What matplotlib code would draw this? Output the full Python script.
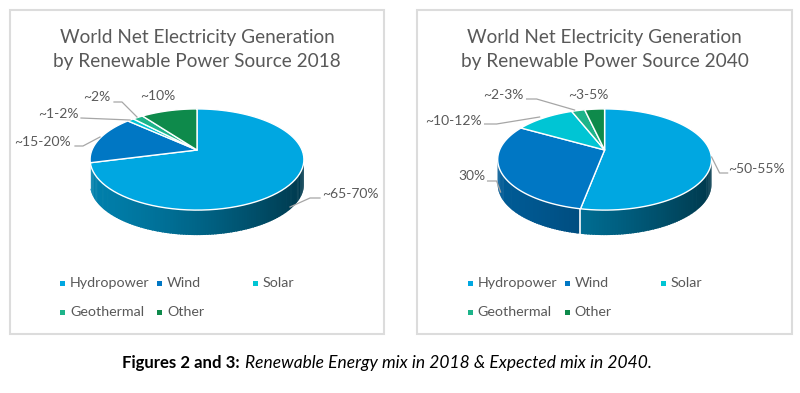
#!/usr/bin/env python3

import numpy as np
import matplotlib
matplotlib.use('Agg')
import matplotlib.pyplot as plt
from matplotlib.colors import to_rgb
from matplotlib.patches import Rectangle

plt.rcParams['font.family'] = ['Lato', 'DejaVu Sans']

sources = ['Hydropower', 'Wind', 'Solar', 'Geothermal', 'Other']
colors = ['#00A7E1', '#0077C4', '#00C5D4', '#1DB48A', '#0E8A4B']

# slice shares (clockwise from 12 o'clock)
values_2018 = [71.0, 15.7, 1.2, 1.9, 10.2]
values_2040 = [53.0, 30.2, 10.8, 2.4, 3.6]
labels_2018 = ['~65-70%', '~15-20%', '~1-2%', '~2%', '~10%']
labels_2040 = ['~50-55%', '30%', '~10-12%', '~2-3%', '~3-5%']
title_2018 = 'World Net Electricity Generation\nby Renewable Power Source 2018'
title_2040 = 'World Net Electricity Generation\nby Renewable Power Source 2040'

# label centres, pixels inside the panel
label_pos_2018 = [(350, 194), (42, 142), (58, 114), (97, 97), (158, 96)]
label_pos_2040 = [(349, 169), (64, 176), (46, 121), (96, 95), (181, 95)]
# leader lines, None where the label has none
leaders_2018 = [[(320, 198), (310, 198), (290, 207)],
                [(75, 146), (83, 146), (100, 137)],
                [(81, 118), (130, 120)],
                [(114, 102), (122, 102), (137, 117)],
                None]
leaders_2040 = [[(320, 173), (312, 173), (304, 157)],
                [(80, 181), (89, 181), (93, 192)],
                [(77, 124), (89, 124), (132, 117)],
                [(119, 99), (129, 99), (167, 110)],
                None]

legend_marks = [(62, 283), (159, 283), (255, 283), (62, 312), (159, 312)]

# pie geometry: tilted disc with a bit of perspective, apex sits above the ellipse centre
A, B, K = 105.0, 48.8, 0.188
APEX_Y = 150
DEPTH = 25


def rim(theta, cx):
    """theta in radians clockwise from 12 o'clock, gives pixel x, y"""
    u, v = np.sin(theta), np.cos(theta)
    w = 1 + K * v
    return cx + A * u / w, APEX_Y - B * v / w


def wall_color(color, x, cx):
    t = np.clip((x - (cx - 107)) / 214, 0, 1)
    f = 0.76 - 0.42 * t ** 1.4
    return tuple(c * f for c in to_rgb(color))


def draw_panel(ax, x0, values, labels, label_pos, leaders, title):
    ax.add_patch(Rectangle((x0 + 9.5, 10), 374.5, 324, facecolor='white',
                           edgecolor='#dcdcdc', linewidth=1.5))
    ax.text(x0 + 197, 49, title, ha='center', va='center', fontsize=13.7,
            color='#595959', linespacing=1.5)

    cx = x0 + 197
    edges = np.cumsum([0] + values) / sum(values) * 2 * np.pi

    # side wall first, strips overlap a little so no seams show
    for i in range(len(values)):
        thetas = np.linspace(edges[i], edges[i + 1], max(int(values[i] * 3), 3))
        for a, b in zip(thetas[:-1], thetas[1:]):
            if np.cos((a + b) / 2) > -K + 0.02:
                continue
            xa, ya = rim(a, cx)
            xb, yb = rim(b + 0.012, cx)
            c = wall_color(colors[i], (xa + xb) / 2, cx)
            ax.fill([xa, xb, xb, xa], [ya, yb, yb + DEPTH, ya + DEPTH],
                    facecolor=c, edgecolor='none', zorder=2)
        # white seam where a slice boundary is on the front of the wall
        if np.cos(edges[i + 1]) < -K and i < len(values) - 1:
            xb, yb = rim(edges[i + 1], cx)
            ax.plot([xb, xb], [yb, yb + DEPTH], color='white', lw=1.2, zorder=3)

    # top face
    for i in range(len(values)):
        thetas = np.linspace(edges[i], edges[i + 1], 80)
        xs, ys = rim(thetas, cx)
        ax.fill(np.r_[cx, xs], np.r_[APEX_Y, ys], facecolor=colors[i],
                edgecolor='white', linewidth=1.0, joinstyle='round', zorder=4)

    for text, pos, line in zip(labels, label_pos, leaders):
        ax.text(x0 + pos[0], pos[1], text, ha='center', va='center', fontsize=10.0,
                color='#595959', zorder=6)
        if line is not None:
            ax.plot([x0 + p[0] for p in line], [p[1] for p in line], color='#a6a6a6',
                    lw=0.9, zorder=5)

    for name, color, (mx, my) in zip(sources, colors, legend_marks):
        ax.plot(x0 + mx, my, 's', color=color, ms=3.6, mew=0, zorder=6)
        ax.text(x0 + mx + 8, my, name, ha='left', va='center', fontsize=10.3,
                color='#595959', zorder=6)


fig = plt.figure(figsize=(8.0, 3.93), dpi=100, facecolor='white')
ax = fig.add_axes([0, 0, 1, 1])
ax.set_xlim(0, 800)
ax.set_ylim(393, 0)
ax.axis('off')

draw_panel(ax, 0, values_2018, labels_2018, label_pos_2018, leaders_2018, title_2018)
draw_panel(ax, 407.6, values_2040, labels_2040, label_pos_2040, leaders_2040, title_2040)

ax.text(122, 363, 'Figures 2 and 3:', ha='left', va='center', fontsize=12.1,
        fontweight='bold', color='black')
ax.text(245, 363, 'Renewable Energy mix in 2018 & Expected mix in 2040.', ha='left',
        va='center', fontsize=12.5, style='italic', color='black')

fig.savefig('out.png', dpi=100)
